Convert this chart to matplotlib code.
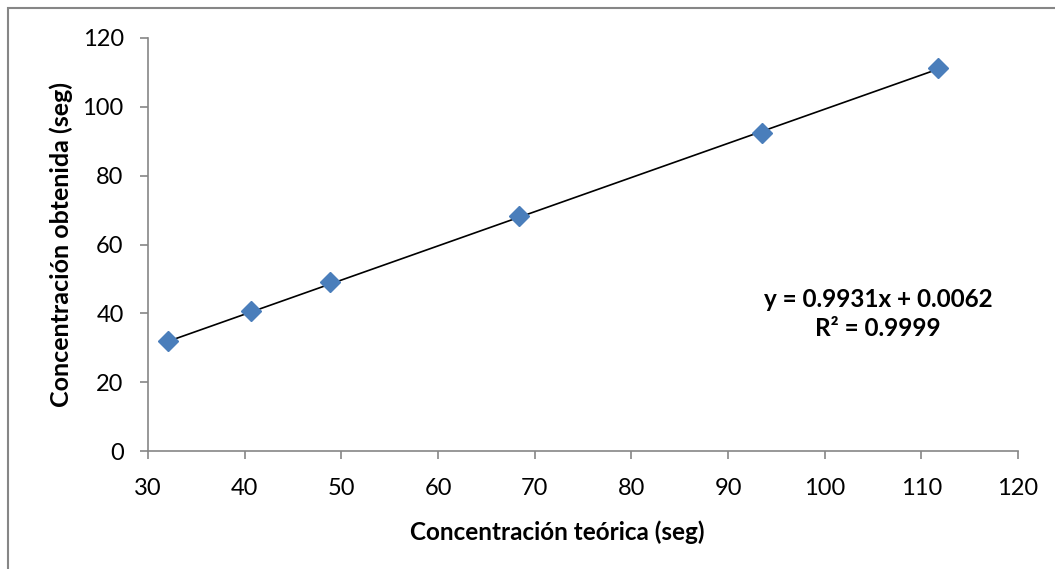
import matplotlib
matplotlib.use("Agg")
import matplotlib.pyplot as plt
from matplotlib.patches import Rectangle
import numpy as np

plt.rcParams['font.family'] = ['Lato', 'DejaVu Sans']

teorica = [32.1, 40.7, 48.8, 68.4, 93.5, 111.7]
obtenida = [32.1, 40.8, 49.0, 68.3, 92.5, 111.3]
slope = 0.9931
intercept = 0.0062
eq_text = "y = 0.9931x + 0.0062\nR² = 0.9999"
x_ticks = [30, 40, 50, 60, 70, 80, 90, 100, 110, 120]
y_ticks = [0, 20, 40, 60, 80, 100, 120]

W, H = 1055, 569
fig = plt.figure(figsize=(W / 100, H / 100), dpi=100)
ax = fig.add_axes([148 / W, 1 - 451 / H, (1018 - 148) / W, (451 - 38) / H])

grey = '#868686'
fig.patches.append(Rectangle((8 / W, -0.1), 1.2, 1 - 8 / H + 0.1, transform=fig.transFigure,
                             fill=False, edgecolor=grey, linewidth=1.5, zorder=0))

xfit = np.array([min(teorica), max(teorica)])
ax.plot(xfit, slope * xfit + intercept, color='black', linewidth=1.2, zorder=2)
ax.plot(teorica, obtenida, linestyle='none', marker='D', markersize=10.5,
        color='#4a7ebb', markeredgecolor='#4a7ebb', zorder=3)

ax.set_xlim(30, 120)
ax.set_ylim(0, 120)
ax.set_xticks(x_ticks)
ax.set_yticks(y_ticks)
for s in ['top', 'right']:
    ax.spines[s].set_visible(False)
for s in ['left', 'bottom']:
    ax.spines[s].set_color(grey)
    ax.spines[s].set_linewidth(1.2)
ax.tick_params(axis='both', direction='out', length=5.5, width=1.2, color=grey,
               labelsize=17, labelcolor='black')
ax.tick_params(axis='y', pad=12)
ax.tick_params(axis='x', pad=14)

ax.set_xlabel('Concentración teórica (seg)', fontsize=17.5, fontweight='bold')
ax.xaxis.set_label_coords(0.47, -0.168)
ax.set_ylabel('Concentración obtenida (seg)', fontsize=18, fontweight='bold')
ax.yaxis.set_label_coords(-0.086, 0.5)

ax.text(105.5, 39.8, eq_text, fontsize=17.5, fontweight='bold', ha='center', va='center',
        linespacing=1.3)

fig.savefig('out.png', dpi=100)
